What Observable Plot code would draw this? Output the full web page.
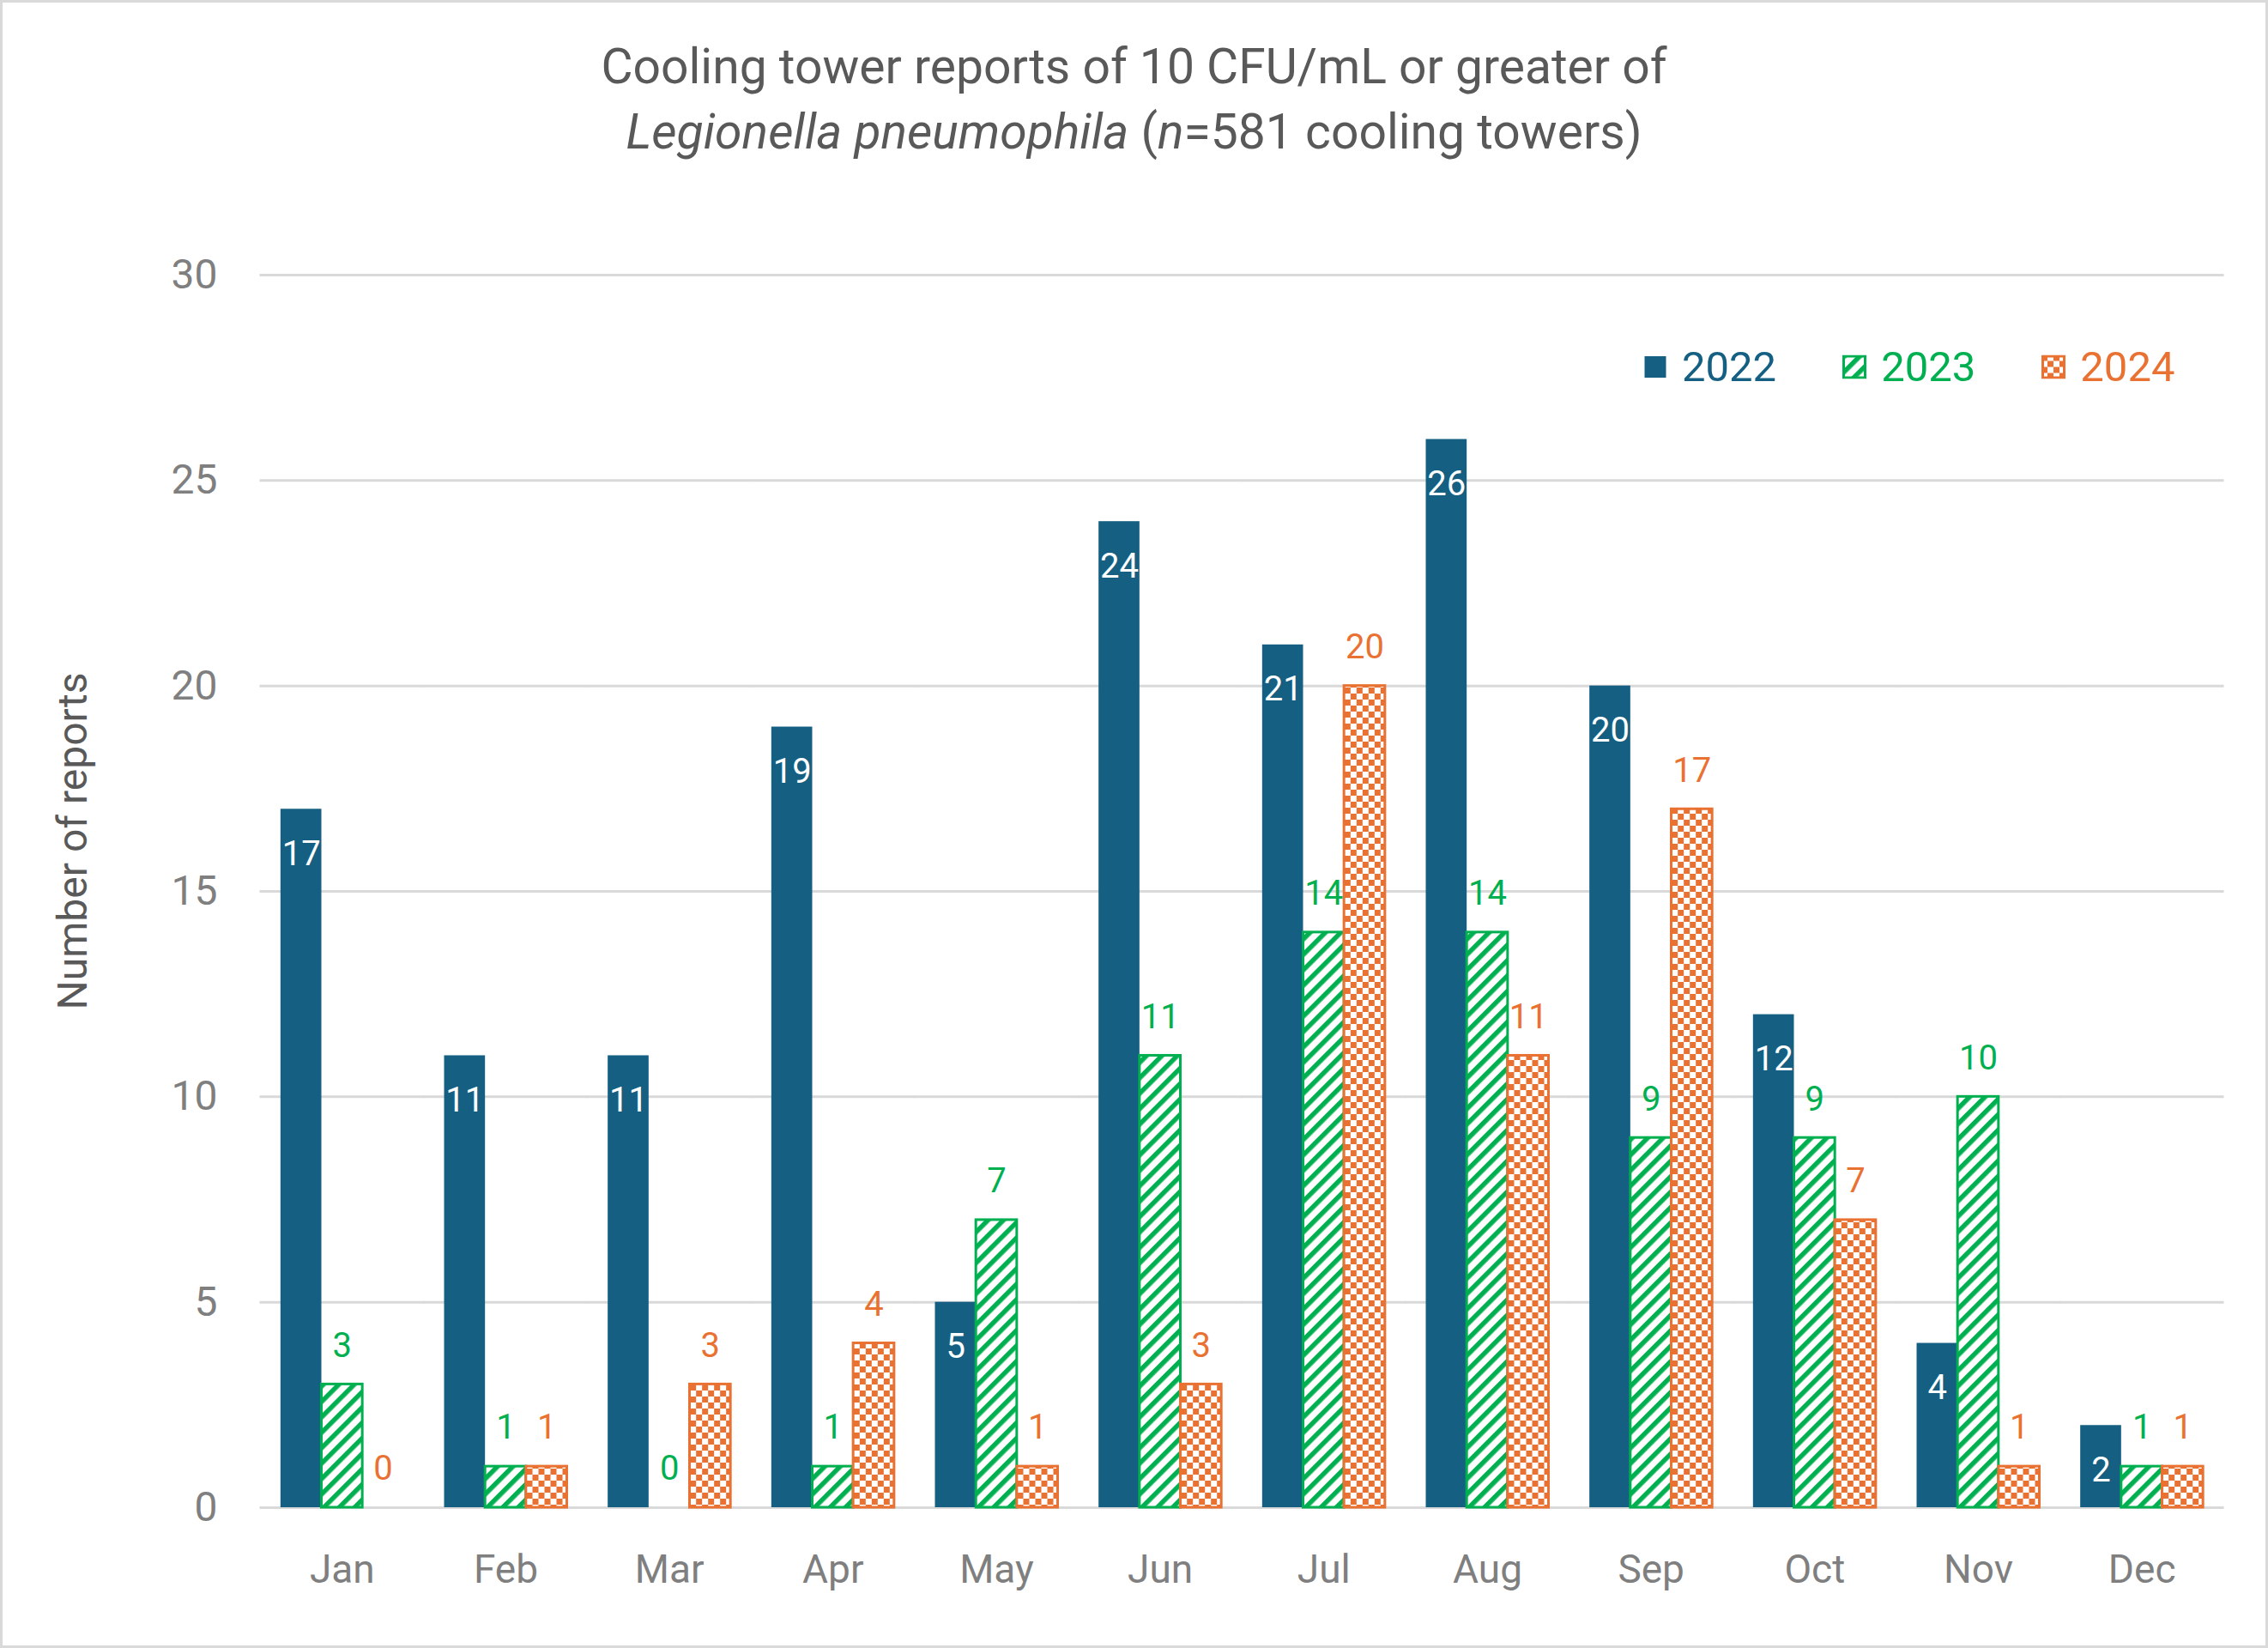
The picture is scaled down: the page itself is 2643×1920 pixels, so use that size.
<!DOCTYPE html>
<html>
<head>
<meta charset="utf-8">
<script src="https://cdn.jsdelivr.net/npm/d3@7"></script>
<script src="https://cdn.jsdelivr.net/npm/@observablehq/plot@0.6"></script>
<style>
  body { margin: 0; background: #fff; font-family: Roboto, "Liberation Sans", sans-serif; }
  #fig { position: relative; width: 2643px; height: 1920px; overflow: hidden; background: #fff; }
  #title { box-sizing: border-box; height: 220px; padding-top: 40px; text-align: center; color: #595959;
           font-size: 57px; line-height: 76px; }
  #frame { position: absolute; left: 0; top: 0; width: 2643px; height: 1920px; box-sizing: border-box;
           border: 3px solid #d9d9d9; pointer-events: none; }
  #ylabel { position: absolute; left: 84px; top: 980px; transform: translate(-50%, -50%) rotate(-90deg);
            white-space: nowrap; font-size: 48px; color: #595959; }
  #legend { position: absolute; left: 1915px; top: 427px; transform: translateY(-50%); display: flex;
            align-items: center; gap: 77px; font-size: 49px; }
  .item { display: flex; align-items: center; gap: 17px; }
  .item svg { display: block; }
</style>
</head>
<body>
<div id="fig">
  <div id="title">Cooling tower reports of 10 CFU/mL or greater of<br><i>Legionella pneumophila</i> (<i>n</i>=581 cooling towers)</div>
  <div id="chart"></div>
  <div id="ylabel">Number of reports</div>
  <div id="legend"></div>
  <div id="frame"></div>
</div>
<script>
const months = ["Jan", "Feb", "Mar", "Apr", "May", "Jun", "Jul", "Aug", "Sep", "Oct", "Nov", "Dec"];
const years = ["2022", "2023", "2024"];
const v2022 = [17, 11, 11, 19, 5, 24, 21, 26, 20, 12, 4, 2];
const v2023 = [3, 1, 0, 1, 7, 11, 14, 14, 9, 9, 10, 1];
const v2024 = [0, 1, 3, 4, 1, 3, 20, 11, 17, 7, 1, 1];
const yTicks = [0, 5, 10, 15, 20, 25, 30];
const colors = ["#156082", "#00B050", "#E97132"];

const series = [v2022, v2023, v2024];
const rows = years.map((y, k) => months.map((m, i) => ({month: m, year: y, value: series[k][i]})));
const [d2022, d2023, d2024] = rows;
const fills = [colors[0], "url(#stripes2023)", "url(#checks2024)"];

const W = 2643, mL = 303, mR = 52;
const step = (W - mL - mR) / months.length;
const gapHalf = step * 0.125; // half of the inner facet gap == outer padding

const common = {fx: "month", x: "year", y: "value"};

const chart = Plot.plot({
  width: W,
  height: 1700,
  marginTop: 100,
  marginBottom: 164,
  marginLeft: mL,
  marginRight: mR,
  style: {fontFamily: "Roboto, 'Liberation Sans', sans-serif", color: "#7f7f7f", background: "transparent"},
  fx: {domain: months, paddingInner: 0.25, paddingOuter: 0.125, round: false, label: null},
  x: {domain: years, padding: 0, round: false, axis: null},
  y: {domain: [0, 30], label: null},
  marks: [
    Plot.ruleY(yTicks, {stroke: "#d9d9d9", strokeWidth: 3, insetLeft: -gapHalf - 0.5, insetRight: -gapHalf - 0.5}),
    Plot.axisY(yTicks, {tickSize: 0, tickPadding: 50 + gapHalf, fontSize: 48, label: null, fill: "#7f7f7f"}),
    Plot.axisFx({anchor: "bottom", tickSize: 0, tickPadding: 55, fontSize: 46, label: null, fill: "#7f7f7f"}),
    Plot.barY(d2022.filter(d => d.value > 0), {...common, fill: fills[0]}),
    Plot.barY(d2023.filter(d => d.value > 0), {...common, fill: fills[1], stroke: colors[1], strokeWidth: 3}),
    Plot.barY(d2024.filter(d => d.value > 0), {...common, fill: fills[2], stroke: colors[2], strokeWidth: 3}),
    Plot.text(d2022, {...common, text: d => String(d.value), dy: 52, fill: "white", fontSize: 40}),
    Plot.text(d2023, {...common, text: d => String(d.value), dy: -45, fill: colors[1], fontSize: 40}),
    Plot.text(d2024, {...common, text: d => String(d.value), dy: -45, fill: colors[2], fontSize: 40})
  ]
});

// pattern definitions
const defs = d3.select(chart).insert("defs", ":first-child");
const st = defs.append("pattern").attr("id", "stripes2023").attr("patternUnits", "userSpaceOnUse")
  .attr("width", 12.7).attr("height", 12.7).attr("patternTransform", "rotate(45)");
st.append("rect").attr("width", 12.7).attr("height", 12.7).attr("fill", "white");
st.append("rect").attr("width", 5.5).attr("height", 12.7).attr("fill", colors[1]);
const ck = defs.append("pattern").attr("id", "checks2024").attr("patternUnits", "userSpaceOnUse")
  .attr("width", 14).attr("height", 14);
ck.append("rect").attr("width", 14).attr("height", 14).attr("fill", "white");
ck.append("rect").attr("width", 7).attr("height", 7).attr("fill", colors[2]);
ck.append("rect").attr("x", 7).attr("y", 7).attr("width", 7).attr("height", 7).attr("fill", colors[2]);

document.getElementById("chart").appendChild(chart);

// legend
const legend = d3.select("#legend");
years.forEach((y, k) => {
  const item = legend.append("div").attr("class", "item").style("color", colors[k]);
  const s = item.append("svg").attr("width", 28).attr("height", 28);
  s.append("rect").attr("x", 1.5).attr("y", 1.5).attr("width", 25).attr("height", 25)
    .attr("fill", fills[k]).attr("stroke", colors[k]).attr("stroke-width", k === 0 ? 0 : 3);
  item.append("span").text(y);
});
</script>
</body>
</html>
